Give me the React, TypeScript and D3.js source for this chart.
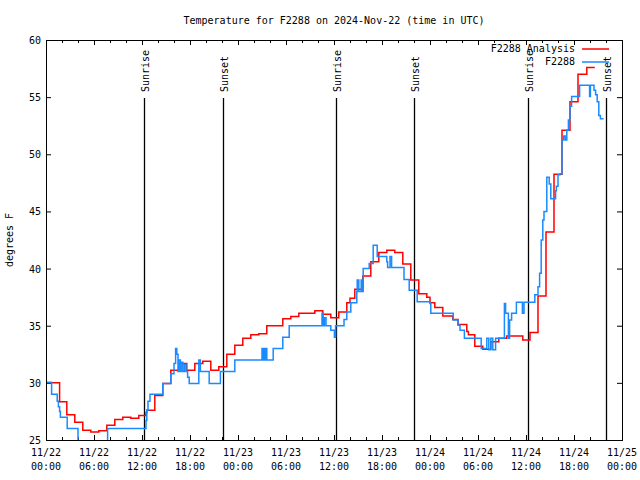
import React from "react";
import * as d3 from "d3";

const START_UTC = Date.UTC(2024, 10, 22, 0, 0);
const SPAN_HOURS = 72;

const TITLE = "Temperature for F2288 on 2024-Nov-22 (time in UTC)";
const Y_LABEL = "degrees F";
const SERIES_NAMES = ["F2288 Analysis", "F2288"];
const SERIES_COLORS = ["#ff0000", "#1a8aff"];

const Y_TICKS = [25, 30, 35, 40, 45, 50, 55, 60];

const SUN_LABELS = ["Sunrise", "Sunset", "Sunrise", "Sunset", "Sunrise", "Sunset"];
const SUN_HOURS = [12.25, 22.07, 36.25, 46.05, 60.25, 70.03];

// Analysis (red), hours since 11/22 00:00 UTC and temperature (F), drawn as steps
const RED_HOURS = [0, 1.7, 2.6, 3.6, 4.6, 5.6, 6.6, 7.6, 8.6, 9.6, 10.6, 11.6, 12.5, 12.6, 13.6, 14.6, 15.6, 16.6, 17.6, 18.6, 19.6, 20.6, 21.6, 22.6, 23.6, 24.6, 25.6, 26.6, 27.6, 29.6, 30.6, 31.6, 33.6, 34.6, 35.6, 36.6, 37.6, 38.0, 38.6, 39.6, 40.6, 41.6, 42.6, 43.6, 44.6, 45.6, 46.6, 47.6, 48.0, 48.6, 49.6, 50.85, 51.5, 52.6, 52.8, 53.6, 54.6, 55.6, 56.6, 57.6, 59.6, 60.5, 61.5, 62.5, 63.5, 64.5, 65.5, 66.5, 67.6, 68.6];
const RED_TEMPS = [30.0, 28.35, 27.2, 26.55, 25.85, 25.7, 25.8, 26.3, 26.8, 27.0, 26.9, 27.15, 27.4, 27.6, 28.9, 29.95, 31.1, 31.7, 31.1, 31.7, 31.9, 31.1, 31.4, 32.5, 33.3, 33.9, 34.2, 34.3, 35.0, 35.6, 35.8, 36.1, 36.3, 36.0, 35.7, 36.2, 37.0, 37.4, 38.2, 39.35, 40.6, 41.4, 41.6, 41.4, 40.4, 39.0, 37.8, 37.5, 37.0, 36.6, 35.85, 35.55, 35.1, 34.5, 34.2, 33.2, 32.95, 33.6, 33.9, 34.1, 33.75, 34.4, 37.6, 43.2, 48.25, 52.1, 54.6, 57.0, 57.6, 57.6];

// Observations (blue)
const BLUE_HOURS = [0, 0.7, 1.4, 1.55, 1.7, 1.8, 2.65, 4.0, 7.7, 12.5, 12.6, 12.75, 13.0, 14.6, 15.6, 16.0, 16.2, 16.35, 16.5, 16.6, 16.8, 16.9, 17.1, 17.3, 17.5, 17.7, 17.9, 19.1, 19.3, 20.4, 21.8, 23.6, 27.0, 27.1, 27.25, 27.35, 27.5, 27.6, 28.4, 29.6, 30.4, 34.5, 34.65, 34.8, 35.0, 35.6, 36.05, 36.2, 37.25, 37.6, 38.1, 38.85, 38.9, 39.1, 39.4, 39.55, 39.65, 40.4, 40.9, 41.4, 42.6, 42.7, 43.0, 43.2, 44.75, 45.4, 46.4, 48.0, 48.1, 50.9, 51.5, 51.75, 52.3, 54.4, 55.1, 55.35, 55.6, 55.85, 56.2, 57.3, 57.45, 57.8, 57.95, 58.2, 58.8, 59.55, 59.75, 61.1, 61.5, 61.7, 61.9, 62.1, 62.25, 62.6, 62.9, 63.1, 63.7, 63.8, 64.0, 64.25, 64.5, 64.7, 64.9, 65.1, 65.3, 65.5, 65.7, 66.7, 67.95, 68.05, 68.5, 68.7, 68.9, 69.1, 69.3, 69.7];
const BLUE_TEMPS = [30.05, 29.0, 28.4, 27.9, 27.5, 27.0, 26.0, 24.0, 26.0, 26.7, 27.6, 28.4, 29.0, 29.95, 30.8, 31.7, 33.0, 32.5, 31.0, 32.0, 31.0, 31.8, 31.0, 31.6, 31.0, 30.5, 29.95, 32.0, 31.0, 29.95, 31.0, 32.0, 33.0, 32.0, 33.0, 32.0, 33.0, 32.0, 33.0, 34.0, 35.0, 36.1, 35.0, 35.7, 35.0, 34.6, 34.0, 35.0, 35.55, 36.2, 37.0, 38.0, 39.0, 38.0, 39.0, 38.0, 40.0, 40.45, 42.05, 41.05, 40.6, 40.1, 41.05, 40.1, 39.05, 38.1, 37.1, 36.95, 36.1, 35.5, 35.05, 34.6, 33.9, 33.0, 33.9, 32.9, 33.9, 32.9, 33.9, 36.95, 36.1, 33.9, 35.5, 36.1, 37.05, 36.1, 37.05, 37.7, 38.4, 39.6, 42.5, 44.25, 45.0, 48.0, 47.4, 46.1, 46.8, 47.2, 48.2, 48.3, 51.25, 51.6, 51.25, 52.1, 53.0, 54.2, 55.05, 56.05, 55.05, 56.05, 55.6, 55.2, 54.6, 53.4, 53.1, 53.1];

const W = 640;
const H = 480;
const M = { left: 46, right: 622, top: 40, bottom: 440 };
const FONT = "'DejaVu Sans Mono', 'Liberation Mono', monospace";

export default function App() {
  const x = d3
    .scaleUtc()
    .domain([new Date(START_UTC), new Date(START_UTC + SPAN_HOURS * 3600e3)])
    .range([M.left, M.right]);
  const y = d3.scaleLinear().domain([25, 60]).range([M.bottom, M.top]);
  const hx = (h: number) => x(new Date(START_UTC + h * 3600e3));

  const majorTicks = x.ticks(d3.utcHour.every(6) as any);
  const minorTicks = x.ticks(d3.utcHour.every(2) as any);
  const fmtDate = d3.utcFormat("%m/%d");
  const fmtTime = d3.utcFormat("%H:%M");

  const line = d3
    .line<[number, number]>()
    .x((d) => hx(d[0]))
    .y((d) => y(d[1]))
    .curve(d3.curveStepAfter);

  const redPts = RED_HOURS.map((h, i) => [h, RED_TEMPS[i]] as [number, number]);
  const bluePts = BLUE_HOURS.map((h, i) => [h, BLUE_TEMPS[i]] as [number, number]);

  return (
    <svg
      width={W}
      height={H}
      style={{ position: "absolute", left: 0, top: 0, background: "#fff" }}
      fontFamily={FONT}
      fontSize={10}
    >
      <rect x={0} y={0} width={W} height={H} fill="#fff" />
      <defs>
        <clipPath id="plot">
          <rect x={M.left} y={M.top} width={M.right - M.left} height={M.bottom - M.top} />
        </clipPath>
      </defs>

      <text x={(M.left + M.right) / 2} y={24} textAnchor="middle" fill="#000">
        {TITLE}
      </text>
      <text
        transform={`translate(13,${(M.top + M.bottom) / 2}) rotate(-90)`}
        textAnchor="middle"
        fill="#000"
      >
        {Y_LABEL}
      </text>

      {/* y ticks */}
      {Y_TICKS.map((t) => (
        <g key={"y" + t}>
          <line x1={M.left} x2={M.left + 5} y1={y(t) + 0.5} y2={y(t) + 0.5} stroke="#000" />
          <line x1={M.right} x2={M.right - 5} y1={y(t) + 0.5} y2={y(t) + 0.5} stroke="#000" />
          <text x={M.left - 5} y={y(t) + 4} textAnchor="end" fill="#000">
            {t}
          </text>
        </g>
      ))}

      {/* x ticks */}
      {minorTicks.map((d, i) => (
        <g key={"xm" + i}>
          <line x1={x(d) + 0.5} x2={x(d) + 0.5} y1={M.bottom} y2={M.bottom - 3} stroke="#000" />
          <line x1={x(d) + 0.5} x2={x(d) + 0.5} y1={M.top} y2={M.top + 3} stroke="#000" />
        </g>
      ))}
      {majorTicks.map((d, i) => (
        <g key={"xM" + i}>
          <line x1={x(d) + 0.5} x2={x(d) + 0.5} y1={M.bottom} y2={M.bottom - 5} stroke="#000" />
          <line x1={x(d) + 0.5} x2={x(d) + 0.5} y1={M.top} y2={M.top + 5} stroke="#000" />
          <text x={x(d)} y={456} textAnchor="middle" fill="#000">
            {fmtDate(d)}
          </text>
          <text x={x(d)} y={470} textAnchor="middle" fill="#000">
            {fmtTime(d)}
          </text>
        </g>
      ))}

      {/* sunrise / sunset markers */}
      {SUN_HOURS.map((h, i) => (
        <g key={"sun" + i}>
          <line
            x1={Math.round(hx(h)) + 0.5}
            x2={Math.round(hx(h)) + 0.5}
            y1={M.bottom}
            y2={98}
            stroke="#000"
            strokeWidth={1.3}
          />
          <text
            transform={`translate(${Math.round(hx(h)) + 2},92) rotate(-90)`}
            textAnchor="start"
            dominantBaseline="middle"
            fill="#000"
          >
            {SUN_LABELS[i]}
          </text>
        </g>
      ))}

      <g clipPath="url(#plot)" fill="none" strokeWidth={1.5}>
        <path d={line(redPts) || ""} stroke={SERIES_COLORS[0]} />
        <path d={line(bluePts) || ""} stroke={SERIES_COLORS[1]} />
      </g>

      {/* legend */}
      {SERIES_NAMES.map((n, i) => (
        <g key={"lg" + i}>
          <text x={575} y={52 + i * 13} textAnchor="end" fill="#000">
            {n}
          </text>
          <line x1={582} x2={609} y1={49 + i * 13} y2={49 + i * 13} stroke={SERIES_COLORS[i]} strokeWidth={1.5} />
        </g>
      ))}

      <rect
        x={M.left + 0.5}
        y={M.top + 0.5}
        width={M.right - M.left}
        height={M.bottom - M.top}
        fill="none"
        stroke="#000"
      />
    </svg>
  );
}
